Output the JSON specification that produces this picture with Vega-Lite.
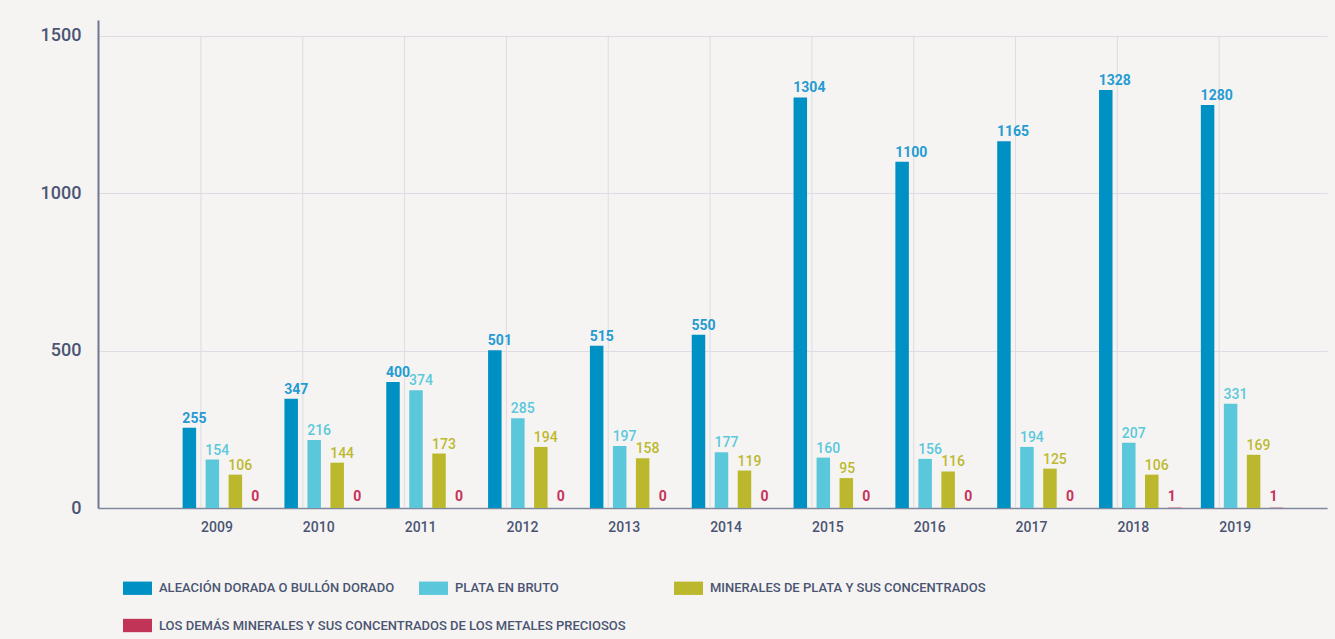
{
  "$schema": "https://vega.github.io/schema/vega-lite/v6.json",
  "width": 1229,
  "height": 488,
  "autosize": {"type": "none"},
  "padding": {"left": 98, "top": 20, "right": 8, "bottom": 131},
  "background": "#f5f4f2",
  "config": {"view": {"stroke": null}, "font": "Roboto"},
  "data": {
    "values": [
      {"year": "2009", "series": "ALEACIÓN DORADA O BULLÓN DORADO", "value": 255},
      {"year": "2010", "series": "ALEACIÓN DORADA O BULLÓN DORADO", "value": 347},
      {"year": "2011", "series": "ALEACIÓN DORADA O BULLÓN DORADO", "value": 400},
      {"year": "2012", "series": "ALEACIÓN DORADA O BULLÓN DORADO", "value": 501},
      {"year": "2013", "series": "ALEACIÓN DORADA O BULLÓN DORADO", "value": 515},
      {"year": "2014", "series": "ALEACIÓN DORADA O BULLÓN DORADO", "value": 550},
      {"year": "2015", "series": "ALEACIÓN DORADA O BULLÓN DORADO", "value": 1304},
      {"year": "2016", "series": "ALEACIÓN DORADA O BULLÓN DORADO", "value": 1100},
      {"year": "2017", "series": "ALEACIÓN DORADA O BULLÓN DORADO", "value": 1165},
      {"year": "2018", "series": "ALEACIÓN DORADA O BULLÓN DORADO", "value": 1328},
      {"year": "2019", "series": "ALEACIÓN DORADA O BULLÓN DORADO", "value": 1280},
      {"year": "2009", "series": "PLATA EN BRUTO", "value": 154},
      {"year": "2010", "series": "PLATA EN BRUTO", "value": 216},
      {"year": "2011", "series": "PLATA EN BRUTO", "value": 374},
      {"year": "2012", "series": "PLATA EN BRUTO", "value": 285},
      {"year": "2013", "series": "PLATA EN BRUTO", "value": 197},
      {"year": "2014", "series": "PLATA EN BRUTO", "value": 177},
      {"year": "2015", "series": "PLATA EN BRUTO", "value": 160},
      {"year": "2016", "series": "PLATA EN BRUTO", "value": 156},
      {"year": "2017", "series": "PLATA EN BRUTO", "value": 194},
      {"year": "2018", "series": "PLATA EN BRUTO", "value": 207},
      {"year": "2019", "series": "PLATA EN BRUTO", "value": 331},
      {"year": "2009", "series": "MINERALES DE PLATA Y SUS CONCENTRADOS", "value": 106},
      {"year": "2010", "series": "MINERALES DE PLATA Y SUS CONCENTRADOS", "value": 144},
      {"year": "2011", "series": "MINERALES DE PLATA Y SUS CONCENTRADOS", "value": 173},
      {"year": "2012", "series": "MINERALES DE PLATA Y SUS CONCENTRADOS", "value": 194},
      {"year": "2013", "series": "MINERALES DE PLATA Y SUS CONCENTRADOS", "value": 158},
      {"year": "2014", "series": "MINERALES DE PLATA Y SUS CONCENTRADOS", "value": 119},
      {"year": "2015", "series": "MINERALES DE PLATA Y SUS CONCENTRADOS", "value": 95},
      {"year": "2016", "series": "MINERALES DE PLATA Y SUS CONCENTRADOS", "value": 116},
      {"year": "2017", "series": "MINERALES DE PLATA Y SUS CONCENTRADOS", "value": 125},
      {"year": "2018", "series": "MINERALES DE PLATA Y SUS CONCENTRADOS", "value": 106},
      {"year": "2019", "series": "MINERALES DE PLATA Y SUS CONCENTRADOS", "value": 169},
      {"year": "2009", "series": "LOS DEMÁS MINERALES Y SUS CONCENTRADOS DE LOS METALES PRECIOSOS", "value": 0},
      {"year": "2010", "series": "LOS DEMÁS MINERALES Y SUS CONCENTRADOS DE LOS METALES PRECIOSOS", "value": 0},
      {"year": "2011", "series": "LOS DEMÁS MINERALES Y SUS CONCENTRADOS DE LOS METALES PRECIOSOS", "value": 0},
      {"year": "2012", "series": "LOS DEMÁS MINERALES Y SUS CONCENTRADOS DE LOS METALES PRECIOSOS", "value": 0},
      {"year": "2013", "series": "LOS DEMÁS MINERALES Y SUS CONCENTRADOS DE LOS METALES PRECIOSOS", "value": 0},
      {"year": "2014", "series": "LOS DEMÁS MINERALES Y SUS CONCENTRADOS DE LOS METALES PRECIOSOS", "value": 0},
      {"year": "2015", "series": "LOS DEMÁS MINERALES Y SUS CONCENTRADOS DE LOS METALES PRECIOSOS", "value": 0},
      {"year": "2016", "series": "LOS DEMÁS MINERALES Y SUS CONCENTRADOS DE LOS METALES PRECIOSOS", "value": 0},
      {"year": "2017", "series": "LOS DEMÁS MINERALES Y SUS CONCENTRADOS DE LOS METALES PRECIOSOS", "value": 0},
      {"year": "2018", "series": "LOS DEMÁS MINERALES Y SUS CONCENTRADOS DE LOS METALES PRECIOSOS", "value": 1},
      {"year": "2019", "series": "LOS DEMÁS MINERALES Y SUS CONCENTRADOS DE LOS METALES PRECIOSOS", "value": 1}
    ]
  },
  "layer": [
    {
      "transform": [{"aggregate": [{"op": "count", "as": "n"}], "groupby": ["year"]}],
      "mark": {"type": "rule", "color": "#dcdce2", "strokeWidth": 1},
      "encoding": {
        "x": {"field": "year", "type": "nominal", "bandPosition": 0.275},
        "y": {"datum": 0, "type": "quantitative"},
        "y2": {"datum": 1500}
      }
    },
    {
      "transform": [{"filter": "datum.series != 'LOS DEMÁS MINERALES Y SUS CONCENTRADOS DE LOS METALES PRECIOSOS'"}],
      "mark": {"type": "bar"},
      "encoding": {
        "x": {
          "field": "year",
          "type": "nominal",
          "scale": {"paddingInner": 0, "paddingOuter": 0.535, "align": 0.688},
          "axis": {
            "title": null,
            "ticks": false,
            "grid": false,
            "labelAngle": 0,
            "bandPosition": 0.43,
            "labelOffset": 9,
            "domainColor": "#7f889c",
            "domainWidth": 1.5,
            "labelFont": "Roboto",
            "labelFontSize": 14,
            "labelFontWeight": 500,
            "labelColor": "#4b5573",
            "labelPadding": 19
          }
        },
        "xOffset": {
          "field": "series",
          "type": "nominal",
          "scale": {
            "domain": [
              "ALEACIÓN DORADA O BULLÓN DORADO",
              "PLATA EN BRUTO",
              "MINERALES DE PLATA Y SUS CONCENTRADOS",
              "LOS DEMÁS MINERALES Y SUS CONCENTRADOS DE LOS METALES PRECIOSOS"
            ],
            "paddingInner": 0.413,
            "paddingOuter": 0.42
          }
        },
        "y": {
          "field": "value",
          "type": "quantitative",
          "scale": {"domain": [0, 1550], "nice": false},
          "axis": {
            "title": null,
            "values": [0, 500, 1000, 1500],
            "format": "d",
            "grid": true,
            "gridColor": "#dcdce2",
            "ticks": false,
            "domainColor": "#6e7891",
            "domainWidth": 2,
            "labelFont": "Roboto",
            "labelFontSize": 18,
            "labelFontWeight": 500,
            "labelColor": "#4b5573",
            "labelPadding": 17
          }
        },
        "color": {
          "field": "series",
          "type": "nominal",
          "scale": {
            "domain": [
              "ALEACIÓN DORADA O BULLÓN DORADO",
              "PLATA EN BRUTO",
              "MINERALES DE PLATA Y SUS CONCENTRADOS"
            ],
            "range": ["#0091c4", "#5bc7db", "#bcb82e"]
          },
          "legend": {
            "title": null,
            "orient": "none",
            "legendX": 25,
            "legendY": 553.5,
            "direction": "horizontal",
            "columns": 3,
            "columnPadding": 2,
            "symbolType": "M-1,-0.46H1V0.46H-1Z",
            "symbolSize": 841,
            "symbolStrokeWidth": 0,
            "symbolOpacity": 1,
            "labelOffset": 7,
            "labelLimit": 0,
            "labelFont": "Roboto",
            "labelFontSize": 13,
            "labelFontWeight": 500,
            "labelColor": "#4b5573",
            "labelExpr": "datum.label == 'PLATA EN BRUTO' ? pad(datum.label, 49, '\u00a0') + '\u200b' : datum.label == 'MINERALES DE PLATA Y SUS CONCENTRADOS' ? datum.label : pad(datum.label, 38, '\u00a0') + '\u200b'"
          }
        }
      }
    },
    {
      "transform": [{"filter": "datum.series == 'LOS DEMÁS MINERALES Y SUS CONCENTRADOS DE LOS METALES PRECIOSOS'"}],
      "mark": {"type": "bar"},
      "encoding": {
        "x": {"field": "year", "type": "nominal"},
        "xOffset": {"field": "series", "type": "nominal"},
        "y": {"field": "value", "type": "quantitative"},
        "fill": {
          "field": "series",
          "type": "nominal",
          "scale": {
            "domain": ["LOS DEMÁS MINERALES Y SUS CONCENTRADOS DE LOS METALES PRECIOSOS"],
            "range": ["#c23457"]
          },
          "legend": {
            "title": null,
            "orient": "none",
            "legendX": 25,
            "legendY": 591,
            "symbolType": "M-1,-0.46H1V0.46H-1Z",
            "symbolSize": 841,
            "symbolStrokeWidth": 0,
            "symbolOpacity": 1,
            "labelOffset": 7,
            "labelLimit": 0,
            "labelFont": "Roboto",
            "labelFontSize": 13,
            "labelFontWeight": 500,
            "labelColor": "#4b5573"
          }
        }
      }
    },
    {
      "transform": [{"filter": "datum.series == 'ALEACIÓN DORADA O BULLÓN DORADO'"}],
      "mark": {"type": "text", "align": "left", "baseline": "alphabetic", "dx": -7, "dy": -5, "font": "Roboto", "fontSize": 14, "fontWeight": "bold", "color": "#259bd2"},
      "encoding": {
        "x": {"field": "year", "type": "nominal"},
        "xOffset": {"field": "series", "type": "nominal"},
        "y": {"field": "value", "type": "quantitative"},
        "text": {"field": "value", "type": "quantitative"}
      }
    },
    {
      "transform": [{"filter": "datum.series == 'PLATA EN BRUTO'"}],
      "mark": {"type": "text", "align": "left", "baseline": "alphabetic", "dx": -7, "dy": -5, "font": "Roboto", "fontSize": 14, "fontWeight": 500, "color": "#5cc8dc"},
      "encoding": {
        "x": {"field": "year", "type": "nominal"},
        "xOffset": {"field": "series", "type": "nominal"},
        "y": {"field": "value", "type": "quantitative"},
        "text": {"field": "value", "type": "quantitative"}
      }
    },
    {
      "transform": [{"filter": "datum.series == 'MINERALES DE PLATA Y SUS CONCENTRADOS'"}],
      "mark": {"type": "text", "align": "left", "baseline": "alphabetic", "dx": -7, "dy": -5, "font": "Roboto", "fontSize": 14, "fontWeight": 500, "color": "#bdb930"},
      "encoding": {
        "x": {"field": "year", "type": "nominal"},
        "xOffset": {"field": "series", "type": "nominal"},
        "y": {"field": "value", "type": "quantitative"},
        "text": {"field": "value", "type": "quantitative"}
      }
    },
    {
      "transform": [{"filter": "datum.series == 'LOS DEMÁS MINERALES Y SUS CONCENTRADOS DE LOS METALES PRECIOSOS'"}],
      "mark": {"type": "text", "align": "left", "baseline": "alphabetic", "dx": -7, "dy": -7, "font": "Roboto", "fontSize": 14, "fontWeight": "bold", "color": "#c8325a"},
      "encoding": {
        "x": {"field": "year", "type": "nominal"},
        "xOffset": {"field": "series", "type": "nominal"},
        "y": {"field": "value", "type": "quantitative"},
        "text": {"field": "value", "type": "quantitative"}
      }
    }
  ]
}
